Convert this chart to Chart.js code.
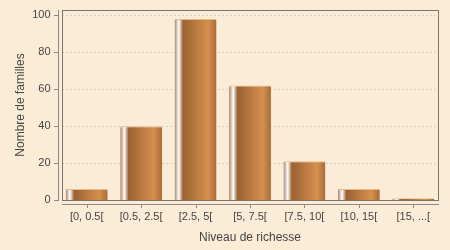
<!DOCTYPE html>
<html>
<head>
<meta charset="utf-8">
<script src="https://cdn.jsdelivr.net/npm/chart.js@4"></script>
<style>
  html, body { margin: 0; padding: 0; background: #fbecd8; }
  #wrap { width: 450px; height: 250px; }
</style>
</head>
<body>
<div id="wrap"><canvas id="chart"></canvas></div>
<script>
var categories = ['[0, 0.5[', '[0.5, 2.5[', '[2.5, 5[', '[5, 7.5[', '[7.5, 10[', '[10, 15[', '[15, ...['];
var familles = [6, 40, 98, 62, 21, 6, 1];
var yTicks = [0, 20, 40, 60, 80, 100];

var BOX = { left: 62, right: 438 };
var BAR_PCT = 0.77;
var FONT = 'Liberation Sans';

function barGradient(c) {
	var chart = c.chart;
	var x = chart.scales.x;
	if (!chart.chartArea || !x) return '#c07a40';
	var w = x.width / categories.length * BAR_PCT;
	var cx = x.getPixelForValue(c.dataIndex);
	var x0 = cx - w / 2;
	var g = chart.ctx.createLinearGradient(x0, 0, x0 + w, 0);
	g.addColorStop(0, '#a98463');
	g.addColorStop(0.10, '#ffffff');
	g.addColorStop(0.20, '#9b6132');
	g.addColorStop(0.80, '#d6904e');
	g.addColorStop(1, '#a86a3a');
	return g;
}

var frame = {
	id: 'frame',
	beforeDatasetsDraw: function (chart) {
		var ctx = chart.ctx, y = chart.scales.y;
		ctx.save();
		ctx.strokeStyle = '#d8cfc3';
		ctx.lineWidth = 1;
		ctx.setLineDash([2, 2]);
		yTicks.forEach(function (v) {
			if (v === 0) return;
			var py = Math.round(y.getPixelForValue(v)) + 0.5;
			ctx.beginPath();
			ctx.moveTo(BOX.left, py);
			ctx.lineTo(BOX.right, py);
			ctx.stroke();
		});
		ctx.restore();
	},
	afterDraw: function (chart) {
		var ctx = chart.ctx, y = chart.scales.y, x = chart.scales.x, a = chart.chartArea;
		ctx.save();
		ctx.lineWidth = 1;
		ctx.strokeStyle = '#7d7568';
		ctx.strokeRect(BOX.left + 0.5, a.top + 0.5, BOX.right - BOX.left, a.bottom - a.top);
		ctx.strokeStyle = '#8a8a8a';
		// value axis
		ctx.beginPath();
		ctx.moveTo(58.5, a.top);
		ctx.lineTo(58.5, a.bottom + 1);
		yTicks.forEach(function (v) {
			var py = Math.round(y.getPixelForValue(v)) + 0.5;
			ctx.moveTo(54, py);
			ctx.lineTo(58.5, py);
		});
		// category axis
		ctx.moveTo(BOX.left, a.bottom + 4.5);
		ctx.lineTo(BOX.right + 1, a.bottom + 4.5);
		categories.forEach(function (c, i) {
			var px = Math.round(x.getPixelForValue(i)) + 0.5;
			ctx.moveTo(px, a.bottom + 4.5);
			ctx.lineTo(px, a.bottom + 8);
		});
		ctx.stroke();
		ctx.restore();
	}
};

var ctx = document.getElementById('chart').getContext('2d');
var chart = new Chart(ctx, {
	type: 'bar',
	data: {
		labels: categories,
		datasets: [{
			label: 'Familles',
			data: familles,
			backgroundColor: barGradient,
			borderColor: '#e8b98a',
			borderWidth: { top: 1, left: 0, right: 0, bottom: 0 },
			borderSkipped: false,
			categoryPercentage: 1,
			barPercentage: BAR_PCT
		}]
	},
	options: {
		responsive: true,
		maintainAspectRatio: false,
		animation: false,
		layout: { padding: { left: 0, right: 9.5, top: 10, bottom: 0 } },
		plugins: {
			legend: { display: false },
			tooltip: { enabled: false }
		},
		scales: {
			x: {
				offset: true,
				grid: { display: false, drawTicks: false },
				border: { display: false },
				ticks: {
					color: '#444444',
					padding: 10,
					maxRotation: 0,
					autoSkip: false,
					font: { family: FONT, size: 11 }
				},
				title: {
					display: true,
					text: 'Niveau de richesse',
					color: '#444444',
					padding: { top: 0, bottom: 5 },
					font: { family: FONT, size: 12 }
				},
				afterFit: function (s) {
					s.height = 50;
					s.paddingLeft = 0;
					s.paddingRight = 0;
				}
			},
			y: {
				min: 0,
				max: 102.9,
				grid: { display: false, drawTicks: false },
				border: { display: false },
				ticks: {
					stepSize: 20,
					includeBounds: false,
					color: '#444444',
					padding: 9,
					font: { family: FONT, size: 11 }
				},
				title: {
					display: true,
					text: 'Nombre de familles',
					color: '#444444',
					padding: { top: 13, bottom: 0 },
					font: { family: FONT, size: 12 }
				},
				afterFit: function (s) {
					s.width = 59.5;
					s.paddingTop = 0;
					s.paddingBottom = 0;
				}
			}
		}
	},
	plugins: [frame]
});
</script>
</body>
</html>
